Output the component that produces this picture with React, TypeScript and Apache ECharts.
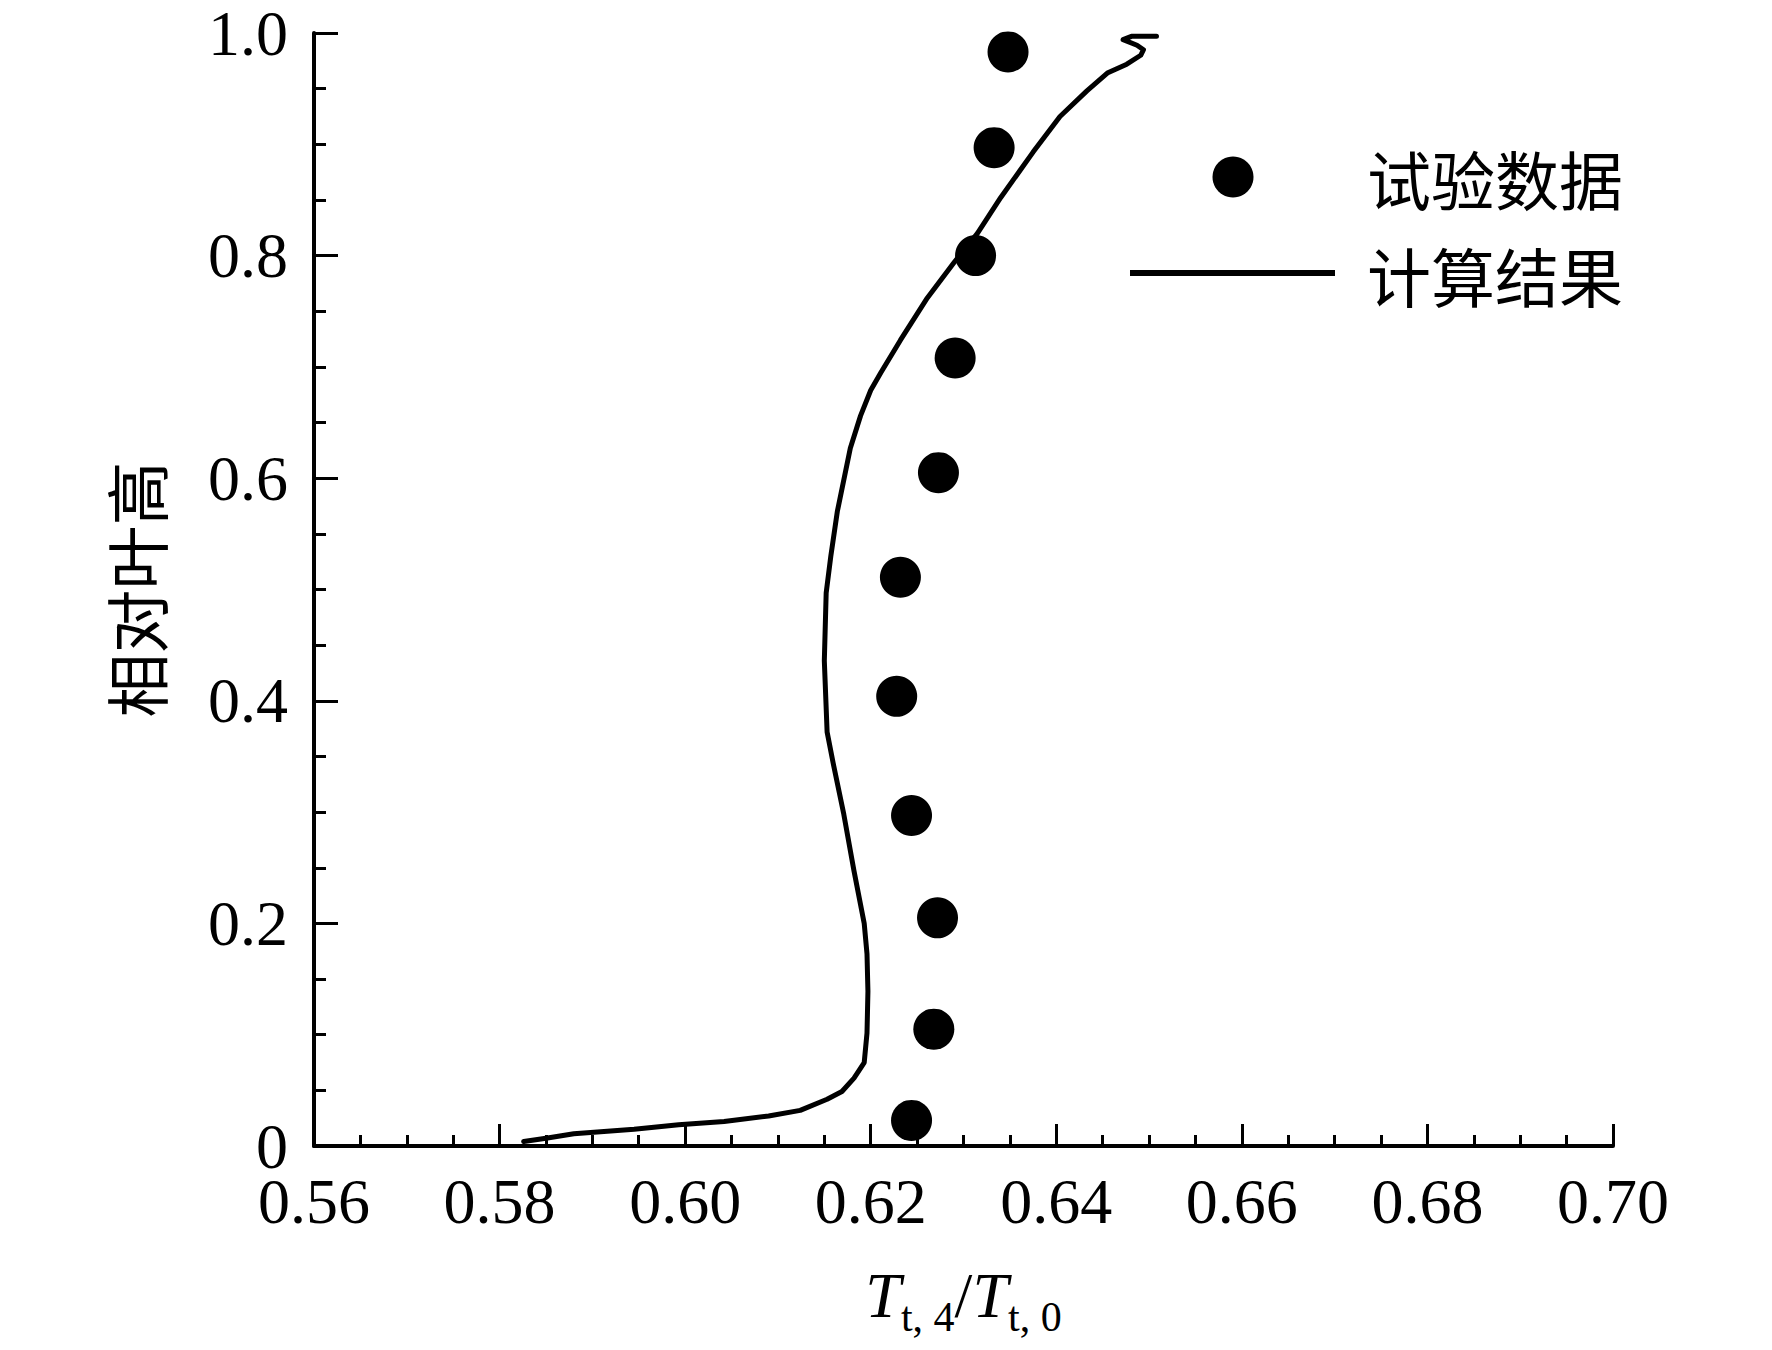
import React, { useEffect, useRef } from "react";
import * as echarts from "echarts";

// Experimental data (试验数据): [T_t4/T_t0, relative blade height]
const expX = [0.6348, 0.6333, 0.6313, 0.6291, 0.6273, 0.6232, 0.6228, 0.6244, 0.6272, 0.6268, 0.6244];
const expY = [0.983, 0.897, 0.8, 0.708, 0.605, 0.511, 0.404, 0.297, 0.205, 0.105, 0.023];

// Computed result (计算结果)
const calcX = [
  0.5826, 0.585, 0.588, 0.5945, 0.5993, 0.6042, 0.609, 0.6124, 0.6153, 0.6169, 0.6182, 0.6193,
  0.6196, 0.6197, 0.6196, 0.6193, 0.6182, 0.6171, 0.616, 0.6153, 0.615, 0.6152, 0.6157, 0.6164,
  0.6178, 0.6189, 0.62, 0.6211, 0.6232, 0.6261, 0.629, 0.6315, 0.634, 0.6375, 0.6404, 0.6433,
  0.6455, 0.6476, 0.6491, 0.6494, 0.6487, 0.6472, 0.6481, 0.6508,
];
const calcY = [
  0.004, 0.007, 0.011, 0.015, 0.019, 0.022, 0.027, 0.032, 0.042, 0.049, 0.061, 0.075,
  0.1015, 0.139, 0.1725, 0.2, 0.247, 0.298, 0.342, 0.372, 0.436, 0.497, 0.53, 0.57,
  0.627, 0.656, 0.679, 0.695, 0.724, 0.762, 0.794, 0.82, 0.852, 0.893, 0.925, 0.948,
  0.964, 0.972, 0.98, 0.985, 0.989, 0.994, 0.997, 0.997,
];

const seriesNames = ["试验数据", "计算结果"];
const yAxisTitle = "相对叶高";

const SERIF = "'Liberation Serif', 'Times New Roman', serif";
const CJK = "'Noto Sans CJK SC', sans-serif";

export default function App() {
  const ref = useRef<HTMLDivElement>(null);

  useEffect(() => {
    document.body.style.margin = "0";
    if (!ref.current) return;
    const chart = echarts.init(ref.current, undefined, { renderer: "svg" });

    const expData = expX.map((x, i) => [x, expY[i]]);
    const calcData = calcX.map((x, i) => [x, calcY[i]]);

    chart.setOption({
      animation: false,
      backgroundColor: "#ffffff",
      grid: { left: 314, right: 159, top: 33, bottom: 204, containLabel: false },
      xAxis: {
        type: "value",
        min: 0.56,
        max: 0.7,
        interval: 0.02,
        name: "{i|T}{s|t, 4}{n|/}{i|T}{s|t, 0}",
        nameLocation: "middle",
        nameGap: 106,
        nameTextStyle: {
          rich: {
            i: { fontFamily: SERIF, fontStyle: "italic", fontSize: 64, color: "#000", verticalAlign: "middle" },
            n: { fontFamily: SERIF, fontSize: 64, color: "#000", verticalAlign: "middle" },
            s: { fontFamily: SERIF, fontSize: 42, color: "#000", verticalAlign: "middle", padding: [44, 0, 0, 0] },
          },
        },
        axisLine: { show: true, onZero: false, lineStyle: { color: "#000", width: 4 } },
        axisTick: { show: true, inside: true, length: 22, lineStyle: { color: "#000", width: 3 } },
        minorTick: { show: true, splitNumber: 4, length: 11, lineStyle: { color: "#000", width: 3 } },
        splitLine: { show: false },
        minorSplitLine: { show: false },
        axisLabel: {
          color: "#000",
          fontFamily: SERIF,
          fontSize: 64,
          lineHeight: 50,
          margin: 30,
          formatter: (v: number) => v.toFixed(2),
        },
      },
      yAxis: {
        type: "value",
        min: 0,
        max: 1,
        interval: 0.2,
        name: yAxisTitle,
        nameLocation: "middle",
        nameGap: 148,
        nameRotate: 90,
        nameTextStyle: { fontFamily: CJK, fontSize: 64, color: "#000" },
        axisLine: { show: true, onZero: false, lineStyle: { color: "#000", width: 4 } },
        axisTick: { show: true, inside: true, length: 24, lineStyle: { color: "#000", width: 3 } },
        minorTick: { show: true, splitNumber: 4, length: 12, lineStyle: { color: "#000", width: 3 } },
        splitLine: { show: false },
        minorSplitLine: { show: false },
        axisLabel: {
          color: "#000",
          fontFamily: SERIF,
          fontSize: 64,
          lineHeight: 50,
          margin: 26,
          formatter: (v: number) => (v === 0 ? "0" : v.toFixed(1)),
        },
      },
      series: [
        {
          name: seriesNames[1],
          type: "line",
          data: calcData,
          showSymbol: false,
          symbol: "none",
          smooth: false,
          clip: false,
          lineStyle: { color: "#000", width: 5, cap: "round", join: "round" },
          z: 2,
        },
        {
          name: seriesNames[0],
          type: "scatter",
          data: expData,
          symbol: "circle",
          symbolSize: 41,
          itemStyle: { color: "#000", opacity: 1 },
          z: 3,
        },
      ],
      graphic: [
        {
          type: "circle",
          shape: { cx: 1233, cy: 177, r: 20.5 },
          style: { fill: "#000" },
        },
        {
          type: "text",
          x: 1367,
          y: 177,
          style: {
            text: seriesNames[0],
            fontFamily: CJK,
            fontSize: 64,
            fill: "#000",
            textVerticalAlign: "middle",
            verticalAlign: "middle",
          },
        },
        {
          type: "line",
          shape: { x1: 1130, y1: 273, x2: 1335, y2: 273 },
          style: { stroke: "#000", lineWidth: 6 },
        },
        {
          type: "text",
          x: 1367,
          y: 274,
          style: {
            text: seriesNames[1],
            fontFamily: CJK,
            fontSize: 64,
            fill: "#000",
            textVerticalAlign: "middle",
            verticalAlign: "middle",
          },
        },
      ],
    });

    return () => chart.dispose();
  }, []);

  return <div ref={ref} style={{ width: 1772, height: 1350 }} />;
}
